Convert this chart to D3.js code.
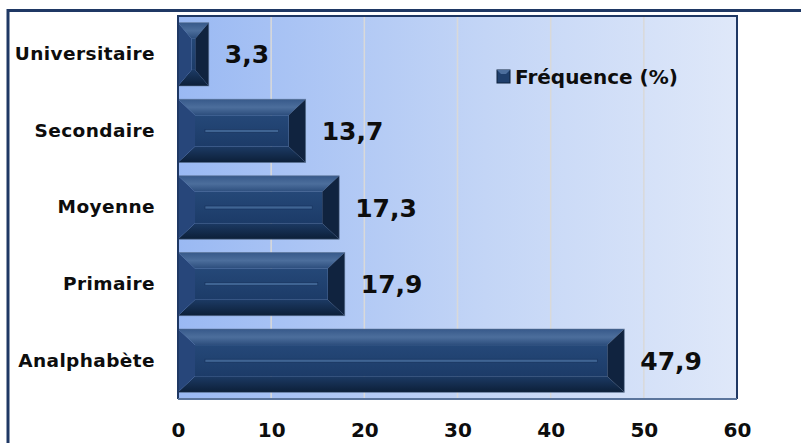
<!DOCTYPE html>
<html>
<head>
<meta charset="utf-8">
<script src="https://cdn.jsdelivr.net/npm/d3@7"></script>
<style>
  html, body { margin: 0; padding: 0; background: #ffffff; }
  svg { display: block; }
  text { font-family: "DejaVu Sans", "Liberation Sans", sans-serif; font-weight: bold; fill: #0d0d0d; }
</style>
</head>
<body>
<svg id="chart" width="801" height="443"></svg>
<script>
// Niveau d'instruction — fréquence (%)
const categories = ["Universitaire", "Secondaire", "Moyenne", "Primaire", "Analphabète"];
const frequences = [3.3, 13.7, 17.3, 17.9, 47.9];
const xTicks = [0, 10, 20, 30, 40, 50, 60];
const seriesName = "Fréquence (%)";

const svg = d3.select("#chart");
const W = 801, H = 443;
const plot = { left: 178, right: 737, top: 16, bottom: 399 };

const x = d3.scaleLinear().domain([0, 60]).range([plot.left, plot.right]);
const y = d3.scaleBand().domain(categories)
  .range([plot.top, plot.bottom])
  .paddingInner(0.174).paddingOuter(0.087);

const defs = svg.append("defs");
const bg = defs.append("linearGradient").attr("id", "bgGrad")
  .attr("x1", "0%").attr("x2", "100%").attr("y1", "0%").attr("y2", "0%");
bg.append("stop").attr("offset", "0%").attr("stop-color", "#9ab9f3");
bg.append("stop").attr("offset", "55%").attr("stop-color", "#c3d5f6");
bg.append("stop").attr("offset", "100%").attr("stop-color", "#dfe8f9");

const topG = defs.append("linearGradient").attr("id", "topFace")
  .attr("x1", "0").attr("x2", "0").attr("y1", "0").attr("y2", "1");
topG.append("stop").attr("offset", "0%").attr("stop-color", "#37598a");
topG.append("stop").attr("offset", "50%").attr("stop-color", "#4c6e9c");
topG.append("stop").attr("offset", "100%").attr("stop-color", "#2c4d7c");

const botG = defs.append("linearGradient").attr("id", "botFace")
  .attr("x1", "0").attr("x2", "0").attr("y1", "0").attr("y2", "1");
botG.append("stop").attr("offset", "0%").attr("stop-color", "#1c3a64");
botG.append("stop").attr("offset", "100%").attr("stop-color", "#0c1f38");

const midG = defs.append("linearGradient").attr("id", "midFace")
  .attr("x1", "0").attr("x2", "0").attr("y1", "0").attr("y2", "1");
midG.append("stop").attr("offset", "0%").attr("stop-color", "#254878");
midG.append("stop").attr("offset", "100%").attr("stop-color", "#1c3b68");

// outer frame
svg.append("path")
  .attr("d", `M8,${H} L8,10.5 L${W},10.5`)
  .attr("fill", "none").attr("stroke", "#1f3864").attr("stroke-width", 3);

// plot background
svg.append("rect")
  .attr("x", plot.left).attr("y", plot.top)
  .attr("width", plot.right - plot.left).attr("height", plot.bottom - plot.top)
  .attr("fill", "url(#bgGrad)");

// vertical gridlines
svg.append("g").selectAll("line")
  .data(xTicks.filter(t => t > 0 && t < 60))
  .join("line")
  .attr("x1", d => x(d)).attr("x2", d => x(d))
  .attr("y1", plot.top).attr("y2", plot.bottom)
  .attr("stroke", "#d9d9d9").attr("stroke-width", 1.5);

// bevelled bars
const bars = svg.append("g").selectAll("g")
  .data(categories.map((c, i) => ({ c, v: frequences[i] })))
  .join("g");

bars.each(function (d) {
  const g = d3.select(this);
  const x0 = x(0), x1 = x(d.v), y0 = y(d.c), y1 = y0 + y.bandwidth();
  const w = x1 - x0;
  const bx = Math.min(17, w * 0.44), by = 16;
  const ix0 = x0 + bx, ix1 = x1 - bx, iy0 = y0 + by, iy1 = y1 - by;
  const poly = pts => "M" + pts.map(p => p.join(",")).join("L") + "Z";
  g.append("path").attr("d", poly([[x0, y0], [x1, y0], [ix1, iy0], [ix0, iy0]])).attr("fill", "url(#topFace)");
  g.append("path").attr("d", poly([[x0, y1], [ix0, iy1], [ix1, iy1], [x1, y1]])).attr("fill", "url(#botFace)");
  g.append("path").attr("d", poly([[x0, y0], [ix0, iy0], [ix0, iy1], [x0, y1]])).attr("fill", "#27467a");
  g.append("path").attr("d", poly([[x1, y0], [x1, y1], [ix1, iy1], [ix1, iy0]])).attr("fill", "#10233f");
  g.append("rect").attr("x", ix0).attr("y", iy0)
    .attr("width", Math.max(0, ix1 - ix0)).attr("height", iy1 - iy0)
    .attr("fill", "url(#midFace)");
  if (ix1 - ix0 > 40) {
    const cy = (y0 + y1) / 2;
    g.append("rect").attr("x", ix0 + 10).attr("y", cy - 1.5)
      .attr("width", ix1 - ix0 - 20).attr("height", 3)
      .attr("fill", "#3f6493").attr("stroke", "#16305a").attr("stroke-width", 0.6);
  }
  g.append("rect").attr("x", x0).attr("y", y0).attr("width", w).attr("height", y1 - y0)
    .attr("fill", "none").attr("stroke", "#5a7090").attr("stroke-width", 0.8).attr("stroke-opacity", 0.7);
});

// value labels
svg.append("g").selectAll("text")
  .data(categories.map((c, i) => ({ c, v: frequences[i] })))
  .join("text")
  .attr("x", d => x(d.v) + 16)
  .attr("y", d => y(d.c) + y.bandwidth() / 2)
  .attr("dy", "0.36em")
  .style("font-size", "25px")
  .text(d => d3.format(".1f")(d.v).replace(".", ","));

// plot border
svg.append("path")
  .attr("d", `M${plot.left},${plot.bottom}L${plot.left},${plot.top}L${plot.right},${plot.top}L${plot.right},${plot.bottom}`)
  .attr("fill", "none").attr("stroke", "#1f3864").attr("stroke-width", 2);
svg.append("line")
  .attr("x1", plot.left).attr("x2", plot.right)
  .attr("y1", plot.bottom).attr("y2", plot.bottom)
  .attr("stroke", "#5b759c").attr("stroke-width", 2);

// category axis
const yAxis = d3.axisLeft(y).tickSize(0).tickPadding(23);
const ya = svg.append("g").attr("transform", `translate(${plot.left},0)`).call(yAxis);
ya.select(".domain").remove();
ya.selectAll("text").style("font-size", "18.5px").style("letter-spacing", "0.4px")
  .style("font-family", null).attr("fill", "#0d0d0d");

// value axis
const xAxis = d3.axisBottom(x).tickValues(xTicks).tickSize(0).tickPadding(24)
  .tickFormat(d3.format("d"));
const xa = svg.append("g").attr("transform", `translate(0,${plot.bottom})`).call(xAxis);
xa.select(".domain").remove();
xa.selectAll("text").style("font-size", "20px").style("font-family", null).attr("fill", "#0d0d0d");

// legend
const lg = svg.append("g").attr("transform", "translate(497,70)");
lg.append("rect").attr("width", 13).attr("height", 13).attr("fill", "#1f3f6c")
  .attr("stroke", "#0e223d").attr("stroke-width", 1);
lg.append("path").attr("d", "M0,0L13,0L9,4L4,4Z").attr("fill", "#4c6e9c");
lg.append("text").attr("x", 18).attr("y", 7).attr("dy", "0.36em")
  .style("font-size", "20px").text(seriesName);
</script>
</body>
</html>
